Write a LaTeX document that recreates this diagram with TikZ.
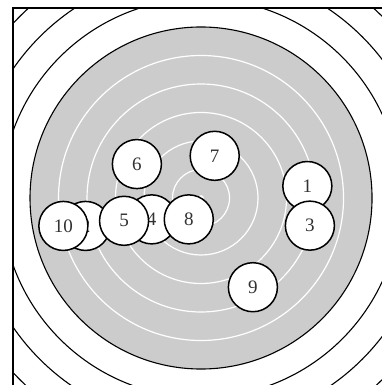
\documentclass[tikz,border=0pt]{standalone}
\usepackage{xcolor}
\usepackage{fontspec}
\setmainfont{Liberation Serif}
\usepackage{tikz}
\definecolor{tGray}{RGB}{204,204,204}
\definecolor{tText}{RGB}{50,50,50}
\tikzset{
  shot/.style={circle,draw=black,line width=1.5pt,fill=white,minimum size=1.72cm,inner sep=0pt,text=tText,font=\fontsize{19}{19}\selectfont},
  ringblack/.style={draw=black,line width=1.1pt},
  ringwhite/.style={draw=white,line width=1.2pt}
}

\begin{document}
\begin{tikzpicture}
\useasboundingbox (-7.053,-6.561) rectangle (6.316,6.947);
\begin{scope}
\clip (-6.6,-6.65) rectangle (6.6,6.67);
% outer rings
\foreach \r in {9,8,7} \draw[ringblack] (0,0) circle (\r);
\fill[tGray] (0,0) circle (6);
\draw[ringblack] (0,0) circle (6);
\foreach \r in {5,4,3,2,1} \draw[ringwhite] (0,0) circle (\r);
\fill[white] (0,0) circle (0.1);
\end{scope}
% frame
\draw[line width=1.3pt] (-6.6,-6.65) rectangle (6.6,6.67);
% shots
\node[shot] (s1) at (3.73,0.42) {1};
\node[shot] (s2) at (-4.05,-0.98) {2};
\node[shot] (s3) at (3.82,-0.97) {3};
\node[shot] (s4) at (-1.73,-0.75) {4};
\node[shot] (s5) at (-2.70,-0.80) {5};
\node[shot] (s6) at (-2.25,1.19) {6};
\node[shot] (s7) at (0.48,1.48) {7};
\node[shot] (s8) at (-0.43,-0.75) {8};
\node[shot] (s9) at (1.82,-3.13) {9};
\node[shot] (s10) at (-4.83,-0.98) {10};
\end{tikzpicture}
\end{document}
